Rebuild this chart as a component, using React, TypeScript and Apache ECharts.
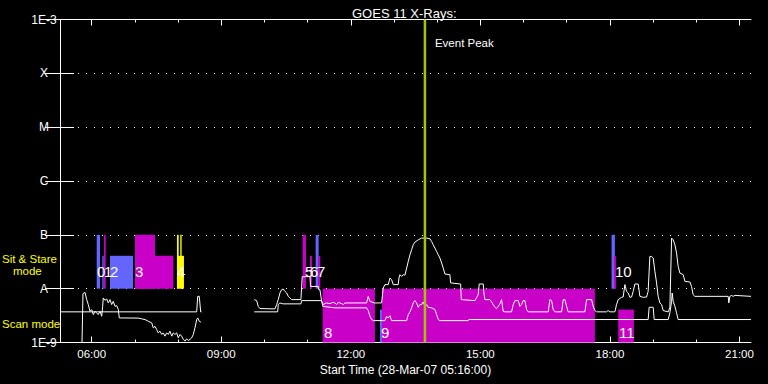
import React, { useEffect, useRef } from "react";
import * as echarts from "echarts";

// ---------- axes ----------
const START_MIN_OF_DAY = 5 * 60 + 16; // 05:16:00 start time
const X_SPAN = 960; // minutes shown after start
const FONT = "'Liberation Sans', Arial, sans-serif";

const yTickLabels = ["1E-9", "A", "B", "C", "M", "X", "1E-3"];
const majorTickHours = [6, 9, 12, 15, 18, 21];
const minorTickHours = [6, 7, 8, 9, 10, 11, 12, 13, 14, 15, 16, 17, 18, 19, 20, 21];

// ---------- flux curves: [minutes after 05:16, W/m^2] ----------
const upperSeg1: [number, number][] = [
  [30.6, 1.0e-9], [31.9, 8.07e-9], [34.7, 8.53e-9], [37.1, 6.26e-9], [39.3, 5.06e-9], [41.7, 3.8e-9],
  [44.0, 4.09e-9], [46.3, 3.3e-9], [48.6, 3.8e-9], [51.0, 3.55e-9], [53.2, 3.3e-9], [55.6, 3.8e-9],
  [57.9, 3.07e-9], [59.3, 4.7e-9], [60.1, 6.73e-9], [62.5, 6.07e-9], [64.9, 6.44e-9], [67.1, 5.43e-9],
  [69.5, 6.26e-9], [71.8, 5.06e-9], [74.0, 5.82e-9], [76.4, 4.7e-9], [78.8, 4.84e-9], [81.0, 4.09e-9],
  [82.4, 2.86e-9], [108.8, 2.84e-9], [113.5, 2.75e-9], [118.1, 2.67e-9], [122.6, 2.48e-9], [127.4, 2.32e-9],
  [129.6, 1.87e-9], [132.0, 2.0e-9], [134.3, 1.74e-9], [136.5, 1.51e-9], [138.9, 1.62e-9], [141.3, 1.41e-9],
  [143.5, 1.51e-9], [145.8, 1.31e-9], [148.2, 1.51e-9], [150.4, 1.41e-9], [152.8, 1.62e-9], [155.2, 1.31e-9],
  [157.4, 1.51e-9], [159.7, 1.41e-9], [162.1, 1.51e-9], [164.3, 1.22e-9], [166.7, 1.41e-9], [169.0, 1.31e-9],
  [171.3, 1.14e-9], [173.6, 1.06e-9], [176.0, 1.17e-9], [178.2, 1.09e-9], [180.6, 1.14e-9], [182.9, 1.22e-9],
  [185.2, 1.41e-9], [187.5, 1.87e-9], [189.9, 2.67e-9], [191.3, 2.86e-9], [193.5, 2.48e-9], [195.8, 2.38e-9],
];

const upperSeg2: [number, number][] = [
  [269.9, 6.26e-9], [273.2, 6.0e-9], [275.4, 4.7e-9], [277.8, 4.27e-9], [298.6, 4.21e-9], [301.0, 5.06e-9],
  [303.2, 6.26e-9], [305.6, 8.32e-9], [307.9, 9.57e-9], [310.2, 9.85e-9], [312.5, 8.91e-9], [314.9, 8.32e-9],
  [317.1, 7.2e-9], [321.8, 6.26e-9], [334.7, 6.26e-9], [335.7, 1.1e-8], [336.5, 1.67e-8], [347.3, 1.67e-8],
  [348.0, 1.1e-8], [358.8, 1.1e-8], [359.5, 9.57e-9], [361.1, 9.57e-9], [363.5, 5.82e-9], [365.7, 5.06e-9],
  [370.0, 5.43e-9], [375.0, 5.28e-9], [379.0, 5.57e-9], [382.0, 5.43e-9], [384.3, 5.06e-9], [386.6, 5.57e-9],
  [391.3, 5.28e-9], [393.5, 5.06e-9], [395.9, 5.43e-9], [426.0, 5.43e-9], [428.2, 7.2e-9], [430.6, 5.82e-9],
  [436.6, 5.43e-9], [446.8, 5.43e-9], [449.1, 1.03e-8], [451.4, 1.19e-8], [456.0, 1.19e-8], [458.4, 1.58e-8],
  [460.7, 1.47e-8], [463.0, 1.19e-8], [469.9, 1.19e-8], [470.9, 1.58e-8], [472.3, 1.82e-8], [474.6, 1.69e-8],
  [476.8, 1.82e-8], [479.2, 1.78e-8], [481.6, 2.42e-8], [483.8, 3.2e-8], [486.2, 4.26e-8], [488.5, 5.28e-8],
  [490.7, 6.53e-8], [493.1, 7.33e-8], [497.7, 8.08e-8], [502.4, 8.69e-8], [509.4, 8.69e-8], [514.0, 8.43e-8],
  [516.3, 7.52e-8], [518.5, 6.53e-8], [520.9, 5.68e-8], [523.2, 4.91e-8], [525.5, 4.26e-8], [527.8, 3.71e-8],
  [530.2, 2.99e-8], [532.4, 2.42e-8], [534.8, 1.87e-8], [541.7, 1.82e-8], [542.7, 1.28e-8], [556.6, 1.22e-8],
  [557.5, 6.26e-9], [576.5, 6.0e-9], [581.0, 7.74e-9], [582.4, 1.22e-8], [588.0, 1.22e-8], [588.9, 8.32e-9],
  [590.3, 6.26e-9], [597.3, 6.26e-9], [599.6, 5.67e-9], [601.8, 5.06e-9], [604.2, 4.51e-9], [606.6, 4.27e-9],
  [608.8, 4.7e-9], [611.2, 5.22e-9], [613.5, 6.26e-9], [615.7, 3.8e-9], [618.1, 3.71e-9], [627.4, 3.71e-9],
  [629.6, 5.06e-9], [632.0, 6.0e-9], [636.6, 6.0e-9], [638.9, 4.7e-9], [641.3, 5.06e-9], [643.5, 6.0e-9],
  [645.9, 6.0e-9], [648.2, 4.09e-9], [650.5, 3.71e-9], [678.3, 3.71e-9], [680.6, 6.26e-9], [683.0, 6.0e-9],
  [685.2, 4.09e-9], [687.6, 3.71e-9], [696.9, 3.71e-9], [699.1, 6.26e-9], [701.5, 6.26e-9], [703.8, 4.7e-9],
  [706.0, 3.71e-9], [729.2, 3.71e-9], [731.6, 6.26e-9], [738.5, 6.26e-9], [740.8, 4.7e-9], [743.1, 3.92e-9],
  [745.5, 3.71e-9], [759.3, 3.71e-9], [761.5, 3.92e-9], [763.9, 3.71e-9], [770.9, 3.71e-9], [773.2, 5.06e-9],
  [775.5, 6.26e-9], [780.2, 6.9e-9], [782.4, 7.0e-9], [784.8, 1.19e-8], [787.1, 8.91e-9], [789.4, 8.32e-9],
  [791.7, 6.9e-9], [794.1, 7.0e-9], [796.3, 8.91e-9], [798.7, 1.22e-8], [803.3, 1.22e-8], [805.6, 7.2e-9],
  [810.2, 6.9e-9], [814.9, 7.0e-9], [817.1, 8.91e-9], [819.5, 3.97e-8], [821.8, 3.97e-8], [824.1, 3.71e-8],
  [826.5, 2.09e-8], [828.8, 1.28e-8], [831.0, 7.2e-9], [833.4, 5.43e-9], [835.8, 5.06e-9], [838.0, 3.92e-9],
  [845.0, 3.71e-9], [847.3, 4.51e-9], [849.7, 8.69e-8], [851.9, 8.08e-8], [854.3, 6.53e-8], [856.6, 4.58e-8],
  [858.8, 2.59e-8], [861.2, 1.95e-8], [865.8, 1.82e-8], [868.1, 1.37e-8], [875.1, 1.33e-8], [877.4, 1.1e-8],
  [879.6, 7.74e-9], [882.0, 7.2e-9], [928.3, 7.2e-9], [929.2, 5.43e-9], [930.6, 7.2e-9], [933.0, 7.5e-9],
  [935.2, 7.2e-9], [937.6, 7.5e-9], [960.0, 7.2e-9],
];

const lowerSeg1: [number, number][] = [
  [0, 3.71e-9], [189.9, 3.71e-9], [191.3, 7.2e-9], [193.5, 7.2e-9], [195.4, 3.71e-9], [196.8, 3.71e-9],
];

const lowerSeg2: [number, number][] = [
  [269.9, 3.71e-9], [302.4, 3.71e-9], [303.2, 5.06e-9], [305.6, 5.43e-9], [309.7, 5.22e-9], [334.7, 5.22e-9],
  [335.7, 6.0e-9], [363.5, 6.0e-9], [364.9, 4.7e-9], [382.0, 4.4e-9], [426.0, 4.4e-9], [428.2, 3.92e-9],
  [430.6, 3.07e-9], [433.0, 2.67e-9], [435.2, 2.55e-9], [451.4, 2.55e-9], [453.8, 3.07e-9], [456.0, 2.86e-9],
  [458.4, 3.14e-9], [460.7, 2.55e-9], [481.6, 2.55e-9], [483.8, 3.3e-9], [486.2, 3.71e-9], [488.5, 4.4e-9],
  [490.7, 5.43e-9], [493.1, 6.0e-9], [495.4, 5.43e-9], [497.7, 4.51e-9], [500.0, 5.06e-9], [502.4, 5.06e-9],
  [504.6, 5.67e-9], [507.0, 4.7e-9], [509.4, 5.06e-9], [511.6, 4.51e-9], [516.3, 4.4e-9], [520.9, 4.09e-9],
  [523.2, 3.3e-9], [525.5, 2.67e-9], [527.8, 2.55e-9], [567.2, 2.55e-9], [567.9, 2.67e-9], [817.1, 2.67e-9],
  [818.5, 4.51e-9], [824.1, 4.51e-9], [825.5, 2.67e-9], [845.0, 2.67e-9], [847.3, 3.55e-9], [849.7, 5.82e-9],
  [850.5, 8.32e-9], [851.9, 5.82e-9], [854.3, 4.7e-9], [856.6, 3.55e-9], [858.8, 2.67e-9], [960.0, 2.67e-9],
];

// ---------- observing-mode blocks ----------
const rectStart = [51.0, 58.8, 61.1, 69.5, 104.2, 104.2, 162.5, 167.1, 162.5, 337.1, 347.3, 355.2, 358.8, 364.9, 444.5, 447.3, 766.3, 769.5, 775.5];
const rectEnd = [55.6, 60.7, 63.5, 101.4, 132.0, 157.4, 164.9, 169.0, 172.2, 341.7, 350.0, 359.3, 361.6, 437.5, 447.3, 743.1, 770.9, 772.3, 797.3];
const rectMode = ["stare", "stare", "stare", "stare", "stare", "stare", "stare", "stare", "stare", "stare", "stare", "stare", "stare", "scan", "scan", "scan", "stare", "stare", "scan"];
const rectLevel = ["full", "part", "full", "part", "full", "part", "full", "full", "part", "full", "part", "full", "part", "full", "part", "full", "full", "part", "part"];
const rectColor = ["blue", "blue", "magenta", "blue", "magenta", "magenta", "yellow", "yellow", "yellow", "magenta", "magenta", "blue", "magenta", "magenta", "blue", "magenta", "blue", "magenta", "magenta"];

// ---------- event numbers ----------
const eventLabel = ["0", "1", "2", "3", "4", "5", "6", "7", "8", "9", "10", "11"];
const eventTime = [51.4, 61.1, 69.5, 104.2, 162.5, 340.3, 347.3, 357.0, 366.7, 445.9, 770.9, 776.5];
const eventMode = ["stare", "stare", "stare", "stare", "stare", "stare", "stare", "stare", "scan", "scan", "stare", "scan"];

const eventPeakTime = 507; // 13:43

// ---------- styling constants ----------
const COLORS: Record<string, string> = { blue: "#6464FF", magenta: "#C800C8", yellow: "#FFFF00" };
const BAND: Record<string, { base: number; full: number; part: number; label: number }> = {
  stare: { base: 1e-8, full: 1e-7, part: 4.08e-8, label: 2.07e-8 },
  scan: { base: 1e-9, full: 1e-8, part: 4.09e-9, label: 1.53e-9 },
};

const majorTicks = majorTickHours.map((h) => h * 60 - START_MIN_OF_DAY);
const minorTicks = minorTickHours.map((h) => h * 60 - START_MIN_OF_DAY);

const fmtTime = (v: number) => {
  const t = Math.round(v + START_MIN_OF_DAY);
  const hh = Math.floor(t / 60) % 24;
  const mm = t % 60;
  return `${String(hh).padStart(2, "0")}:${String(mm).padStart(2, "0")}`;
};

const fmtFlux = (v: number) => yTickLabels[Math.round(Math.log10(v)) + 9] ?? "";

const rectData = rectStart.map((s, i) => {
  const b = BAND[rectMode[i]];
  return [s, rectEnd[i], b.base, rectLevel[i] === "full" ? b.full : b.part];
});

const labelData = eventTime.map((t, i) => [t, BAND[eventMode[i]].label]);

const WHITE = "#FFFFFF";

const baseX = { type: "value", min: 0, max: X_SPAN, splitLine: { show: false } };
const baseY = { type: "log", logBase: 10, min: 1e-9, max: 1e-3, interval: 1, splitNumber: 6 };

const lineSeries = (data: [number, number][]) => ({
  type: "line",
  xAxisIndex: 0,
  yAxisIndex: 0,
  data,
  showSymbol: false,
  symbol: "none",
  silent: true,
  z: 3,
  lineStyle: { color: WHITE, width: 1 },
  emphasis: { disabled: true },
});

const option: any = {
  animation: false,
  backgroundColor: "#000000",
  title: {
    text: "GOES 11 X-Rays:",
    left: 347,
    top: 1.5,
    textStyle: { color: WHITE, fontSize: 13, fontWeight: "normal", fontFamily: FONT },
  },
  grid: [
    { left: 60, right: 17, top: 19.5, bottom: 41.5 },
    { left: 60, right: 17, top: 19.5, bottom: 41.5 },
  ],
  xAxis: [
    {
      ...baseX,
      gridIndex: 0,
      position: "bottom",
      axisLine: { show: true, lineStyle: { color: WHITE, width: 1 } },
      axisTick: { show: true, inside: true, length: 6, customValues: majorTicks, lineStyle: { color: WHITE } },
      axisLabel: { show: true, customValues: majorTicks, formatter: fmtTime, color: WHITE, fontSize: 11.5, fontFamily: FONT, margin: 5 },
      name: "Start Time (28-Mar-07 05:16:00)",
      nameLocation: "middle",
      nameGap: 18,
      nameTextStyle: { color: WHITE, fontSize: 12, fontFamily: FONT },
    },
    {
      ...baseX,
      gridIndex: 0,
      position: "top",
      axisLine: { show: true, lineStyle: { color: WHITE, width: 1 } },
      axisTick: { show: true, inside: true, length: 6, customValues: majorTicks, lineStyle: { color: WHITE } },
      axisLabel: { show: false },
    },
    {
      ...baseX,
      gridIndex: 1,
      position: "bottom",
      axisLine: { show: false },
      axisTick: { show: true, inside: true, length: 3, customValues: minorTicks, lineStyle: { color: WHITE } },
      axisLabel: { show: false },
    },
    {
      ...baseX,
      gridIndex: 1,
      position: "top",
      axisLine: { show: false },
      axisTick: { show: true, inside: true, length: 3, customValues: minorTicks, lineStyle: { color: WHITE } },
      axisLabel: { show: false },
    },
  ],
  yAxis: [
    {
      ...baseY,
      gridIndex: 0,
      position: "left",
      axisLine: { show: true, lineStyle: { color: WHITE, width: 1 } },
      axisTick: { show: true, inside: true, length: 14, lineStyle: { color: WHITE } },
      axisLabel: { show: true, formatter: fmtFlux, color: WHITE, fontSize: 12, fontFamily: FONT, align: "center", margin: 16 },
      splitLine: { show: true, lineStyle: { color: WHITE, width: 1, type: [1, 7], dashOffset: 6 } },
    },
    {
      ...baseY,
      gridIndex: 0,
      position: "right",
      axisLine: { show: true, lineStyle: { color: WHITE, width: 1 } },
      axisTick: { show: true, inside: true, length: 15, lineStyle: { color: WHITE } },
      axisLabel: { show: false },
      splitLine: { show: false },
    },
    { type: "value", gridIndex: 1, min: 0, max: 1, show: false },
  ],
  graphic: [
    { type: "text", x: 2, y: 259, z: 100, style: { text: "Sit & Stare", fill: "#FFFF00", fontSize: 11.5, fontFamily: FONT, verticalAlign: "middle" } },
    { type: "text", x: 13, y: 271, z: 100, style: { text: "mode", fill: "#FFFF00", fontSize: 11.5, fontFamily: FONT, verticalAlign: "middle" } },
    { type: "text", x: 2, y: 324, z: 100, style: { text: "Scan mode", fill: "#FFFF00", fontSize: 11.5, fontFamily: FONT, verticalAlign: "middle" } },
  ],
  series: [
    {
      type: "custom",
      xAxisIndex: 0,
      yAxisIndex: 0,
      z: 1,
      silent: true,
      encode: { x: [0, 1], y: [2, 3] },
      data: rectData,
      renderItem: (params: any, api: any) => {
        const a = api.coord([api.value(0), api.value(3)]);
        const b = api.coord([api.value(1), api.value(2)]);
        return {
          type: "rect",
          shape: { x: a[0], y: a[1], width: b[0] - a[0], height: b[1] - a[1] },
          style: { fill: COLORS[rectColor[params.dataIndex]] },
        };
      },
    },
    lineSeries(upperSeg1),
    lineSeries(upperSeg2),
    lineSeries(lowerSeg1),
    lineSeries(lowerSeg2),
    {
      type: "custom",
      xAxisIndex: 0,
      yAxisIndex: 0,
      z: 4,
      silent: true,
      encode: { x: 0, y: 1 },
      data: labelData,
      renderItem: (params: any, api: any) => {
        const p = api.coord([api.value(0), api.value(1)]);
        return {
          type: "text",
          x: p[0],
          y: p[1],
          style: {
            text: eventLabel[params.dataIndex],
            fill: WHITE,
            fontSize: 15,
            fontFamily: FONT,
            align: "left",
            verticalAlign: "middle",
          },
        };
      },
    },
    {
      type: "custom",
      xAxisIndex: 0,
      yAxisIndex: 0,
      z: 5,
      silent: true,
      encode: { x: 0, y: 1 },
      data: [[eventPeakTime, 1e-3]],
      renderItem: (params: any, api: any) => {
        const top = api.coord([api.value(0), 1e-3]);
        const bot = api.coord([api.value(0), 1e-9]);
        return {
          type: "group",
          children: [
            {
              type: "line",
              shape: { x1: top[0], y1: top[1], x2: bot[0], y2: bot[1] },
              style: { stroke: "#A0C800", lineWidth: 2.5 },
            },
            {
              type: "text",
              x: top[0] + 10,
              y: top[1] + 23,
              style: { text: "Event Peak", fill: WHITE, fontSize: 11.5, fontFamily: FONT, verticalAlign: "middle" },
            },
          ],
        };
      },
    },
  ],
};

export default function App() {
  const ref = useRef<HTMLDivElement>(null);
  useEffect(() => {
    document.body.style.margin = "0";
    document.body.style.background = "#000";
    const chart = echarts.init(ref.current as HTMLDivElement, undefined, { renderer: "svg" });
    chart.setOption(option);
    return () => chart.dispose();
  }, []);
  return <div ref={ref} style={{ width: 768, height: 384, background: "#000" }} />;
}
